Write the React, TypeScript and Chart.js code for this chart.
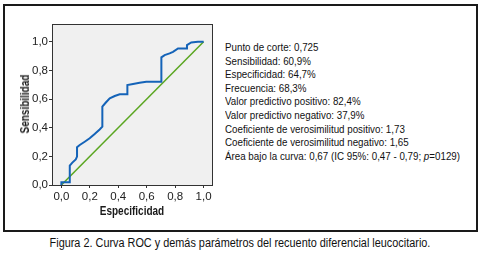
import React, { useEffect, useRef } from "react";
import { Chart, registerables } from "chart.js";

Chart.register(...registerables);

const rocX = [0, 0, 0.059, 0.059, 0.077, 0.101, 0.11, 0.11, 0.129, 0.164, 0.199, 0.234, 0.269, 0.288, 0.288, 0.311, 0.34, 0.375, 0.41, 0.464, 0.464, 0.504, 0.55, 0.597, 0.703, 0.703, 0.726, 0.761, 0.785, 0.82, 0.878, 0.883, 0.913, 0.96, 1];
const rocY = [0, 0.019, 0.019, 0.135, 0.156, 0.179, 0.198, 0.263, 0.279, 0.302, 0.326, 0.356, 0.388, 0.407, 0.547, 0.574, 0.605, 0.621, 0.633, 0.633, 0.698, 0.705, 0.714, 0.721, 0.721, 0.891, 0.907, 0.919, 0.93, 0.953, 0.953, 0.977, 0.995, 1, 1];
const refX = [0, 1];
const refY = [0, 1];
const tickValues = [0, 0.2, 0.4, 0.6, 0.8, 1.0];
const xTitle = "Especificidad";
const yTitle = "Sensibilidad";
const paramLines = [
  "Punto de corte: 0,725",
  "Sensibilidad: 60,9%",
  "Especificidad: 64,7%",
  "Frecuencia: 68,3%",
  "Valor predictivo positivo: 82,4%",
  "Valor predictivo negativo: 37,9%",
  "Coeficiente de verosimilitud positivo: 1,73",
  "Coeficiente de verosimilitud negativo: 1,65",
];
const caption = "Figura 2. Curva ROC y demás parámetros del recuento diferencial leucocitario.";

const FONT = "'Liberation Sans', Arial, sans-serif";

const frameBg = {
  id: "frameBg",
  beforeDraw(chart: any) {
    const { ctx, chartArea: a } = chart;
    ctx.save();
    ctx.fillStyle = "#f0f0f0";
    ctx.fillRect(a.left, a.top, a.right - a.left, a.bottom - a.top);
    ctx.restore();
  },
  afterDraw(chart: any) {
    const { ctx, chartArea: a } = chart;
    ctx.save();
    ctx.strokeStyle = "#333";
    ctx.lineWidth = 1;
    ctx.strokeRect(Math.round(a.left) + 0.5, Math.round(a.top) + 0.5, Math.round(a.right - a.left), Math.round(a.bottom - a.top));
    ctx.restore();
  },
};

export default function App() {
  const ref = useRef<HTMLCanvasElement>(null);
  useEffect(() => {
    if (!ref.current) return;
    const fmt = (v: number) => v.toFixed(1).replace(".", ",");
    const chart = new Chart(ref.current, {
      type: "line",
      data: {
        datasets: [
          {
            data: rocX.map((x, i) => ({ x, y: rocY[i] })),
            borderColor: "#1463b8",
            borderWidth: 2,
            pointRadius: 0,
            tension: 0,
            fill: false,
          },
          {
            data: refX.map((x, i) => ({ x, y: refY[i] })),
            borderColor: "#5aa620",
            borderWidth: 1.5,
            pointRadius: 0,
            fill: false,
          },
        ],
      },
      options: {
        animation: false,
        responsive: false,
        maintainAspectRatio: false,
        layout: { padding: { top: 24, right: 8, left: 0, bottom: 0 } },
        plugins: { legend: { display: false }, tooltip: { enabled: false } },
        scales: {
          x: {
            type: "linear",
            min: -0.066,
            max: 1.059,
            afterBuildTicks: (s: any) => {
              s.ticks = tickValues.map((v) => ({ value: v }));
            },
            afterFit: (s: any) => {
              s.height = 40;
            },
            ticks: {
              callback: (v: any) => fmt(Number(v)),
              font: { family: FONT, size: 11.5 },
              color: "#222",
              padding: 2,
              maxRotation: 0,
              autoSkip: false,
            },
            grid: { drawOnChartArea: false, tickLength: 3, color: "#333" },
            border: { display: false },
          },
          y: {
            type: "linear",
            min: 0,
            max: 1.124,
            afterBuildTicks: (s: any) => {
              s.ticks = tickValues.map((v) => ({ value: v }));
            },
            afterFit: (s: any) => {
              s.width = 52;
            },
            ticks: {
              callback: (v: any) => fmt(Number(v)),
              font: { family: FONT, size: 11.5 },
              color: "#222",
              padding: 1,
              autoSkip: false,
            },
            grid: { drawOnChartArea: false, tickLength: 3, color: "#333" },
            border: { display: false },
          },
        },
      },
      plugins: [frameBg],
    } as any);
    return () => chart.destroy();
  }, []);

  const titleStyle: React.CSSProperties = {
    position: "absolute",
    fontWeight: "bold",
    fontSize: 12.5,
    whiteSpace: "nowrap",
    color: "#1a1a1a",
  };

  return (
    <div style={{ position: "absolute", left: 0, top: 0, width: 480, height: 263, background: "#fff", fontFamily: FONT, color: "#111" }}>
      <div style={{ position: "absolute", left: 3, top: 4, width: 471, height: 224, border: "2px solid #1a1a1a", boxSizing: "content-box" }} />
      <canvas ref={ref} width={220} height={225} style={{ position: "absolute", left: 0, top: 0, width: 220, height: 225 }} />
      <div style={{ ...titleStyle, left: 25, top: 104, transform: "translate(-50%, -50%) rotate(-90deg) scaleX(0.8)" }}>{yTitle}</div>
      <div style={{ ...titleStyle, left: 132, top: 211, transform: "translate(-50%, -50%) scaleX(0.8)" }}>{xTitle}</div>
      <div style={{ position: "absolute", left: 225, top: 41, fontSize: 11.5, lineHeight: "13.6px", whiteSpace: "nowrap", transform: "scaleX(0.85)", transformOrigin: "left top" }}>
        {paramLines.map((l, i) => (
          <div key={i}>{l}</div>
        ))}
        <div>
          Área bajo la curva: 0,67 (IC 95%: 0,47 - 0,79; <i>p</i>=0129)
        </div>
      </div>
      <div style={{ position: "absolute", left: 0, width: 480, top: 236, textAlign: "center", fontSize: 12.5, whiteSpace: "nowrap", transform: "scaleX(0.87)", transformOrigin: "center top" }}>
        {caption}
      </div>
    </div>
  );
}
